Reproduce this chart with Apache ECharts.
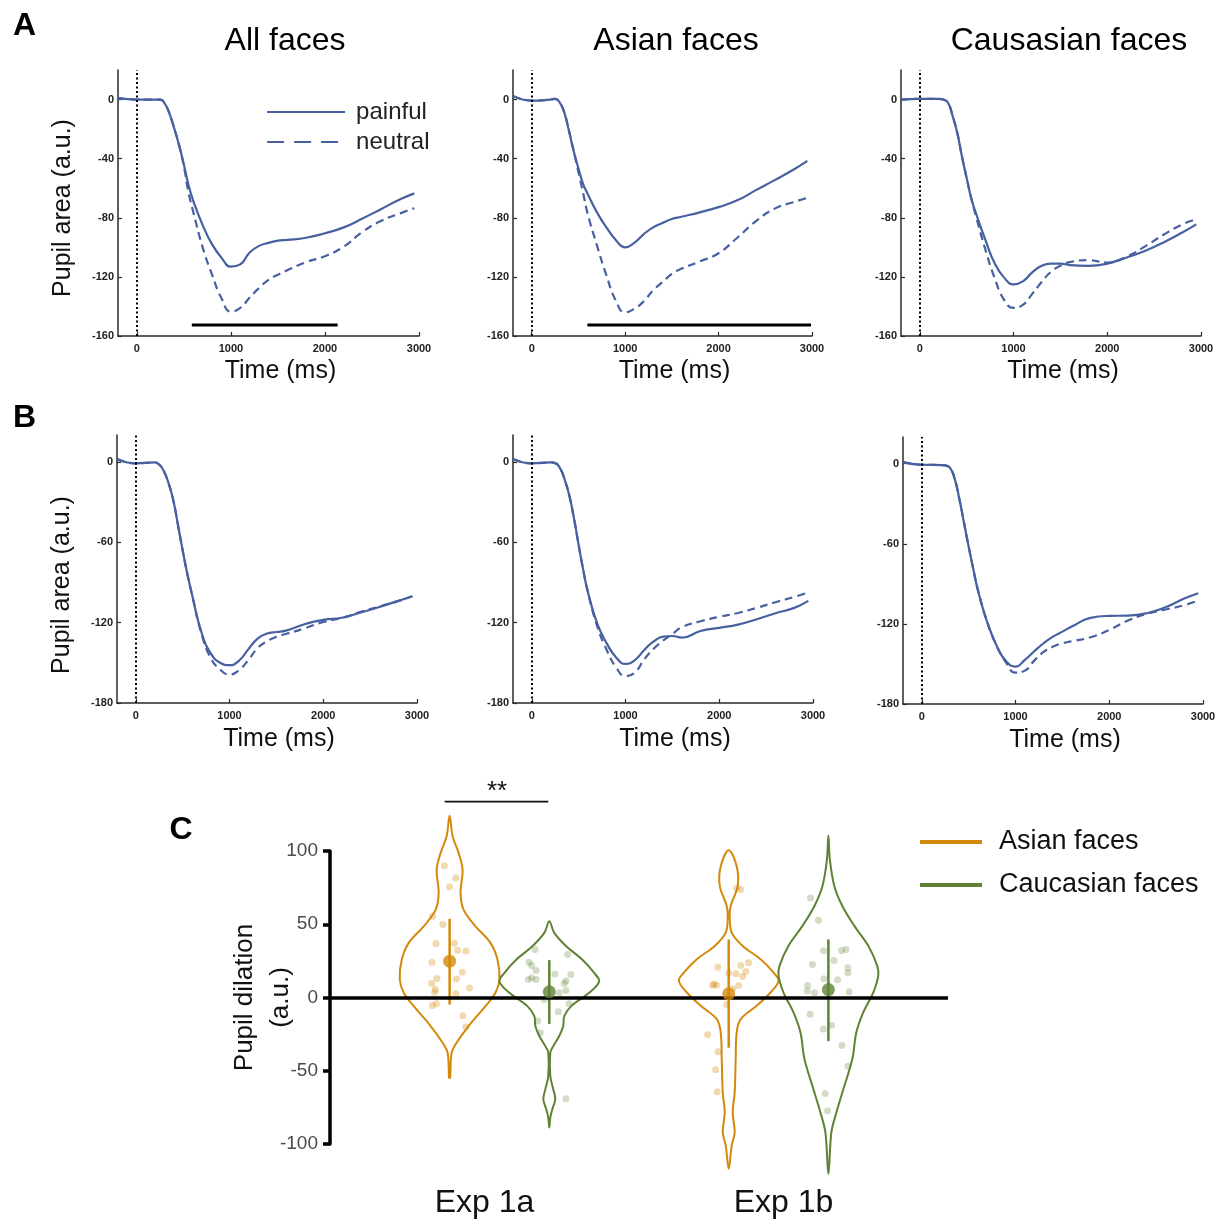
<!DOCTYPE html>
<html><head><meta charset="utf-8">
<script src="https://cdn.jsdelivr.net/npm/echarts@6/dist/echarts.min.js"></script>
<style>html,body{margin:0;padding:0;background:#fff}#c{width:1222px;height:1222px}</style>
</head><body><div id="c"></div>
<script>
// ---------- DATA ----------
const T = [-200,0,200,250,300,350,400,450,500,550,600,700,800,900,1000,1100,1200,1300,1400,1500,1600,1800,2000,2200,2400,2600,2800,2950];

const allPainfulA = [1,0,0,0,-3,-10,-20,-31,-44,-58,-68.5,-85,-98,-107,-113,-111.5,-103.5,-99,-97,-95.5,-95,-93.5,-90.5,-86.5,-80.5,-74,-67.5,-63.5];
const allNeutralA = [1,0,0,0,-3,-10,-20,-31,-45,-63,-76,-100,-118.5,-134.5,-143.5,-141,-134,-127.5,-122,-118.5,-115.5,-110,-106,-99.5,-89.5,-82,-77,-73.5];
const asianPainfulA = [2.5,-0.7,0,0.5,-2,-9,-21.5,-35,-46.5,-57,-64,-76.5,-86.5,-95,-100,-96.8,-91,-86.5,-83.5,-80.8,-79.3,-76.3,-72.8,-68.2,-61.3,-54.5,-47.5,-41.5];
const asianNeutralA = [2.5,-0.7,0,0.5,-2,-9,-21.5,-35,-49,-63,-77.5,-99,-119,-136,-144,-141.5,-136.5,-129,-123.5,-118,-114.5,-109.5,-104,-93.5,-82.3,-73.8,-69.5,-66.5];
const caucPainfulA = [0,0.5,0.5,0,-2,-11,-22.5,-38.5,-53,-67,-77,-95,-111,-120.5,-125,-123,-117,-112.5,-111,-111,-112,-112.5,-111,-107,-102.5,-96.7,-90,-84.5];
const caucNeutralA = [0,0.5,0.5,0,-2,-11,-22.5,-38.5,-53,-67,-79,-101.5,-121,-135.5,-141,-139,-131.5,-123.5,-116.5,-112.5,-110,-108.7,-110.3,-106.5,-99.5,-91.5,-84.5,-81];

const allPainfulB = [2,-1.2,-0.5,-2,-7,-16,-28.5,-47,-66,-83.5,-99,-127,-143,-150,-151.8,-148.5,-140,-132,-128.2,-127,-126,-121.2,-118,-116.4,-112.5,-108.3,-103.8,-100.3];
const allNeutralB = [2,-1.2,-0.5,-2,-7,-16,-28.5,-47,-66,-83.5,-99,-128,-146.5,-155,-158.8,-155.5,-148,-139,-134,-130.5,-128.5,-124.3,-119.5,-116.5,-112,-108,-104,-100.3];
const asianPainfulB = [2,-1.2,-0.5,-1,-4.5,-13,-25,-42,-62,-81,-97.5,-121,-135.5,-146,-150.8,-148,-140.5,-134,-130.5,-130,-131.2,-126.3,-123.9,-121.5,-117.5,-113,-109,-103.8];
const asianNeutralB = [2,-1.2,-0.5,-1,-4.5,-13,-25,-42,-62,-81,-97.5,-123,-140.5,-153.5,-160,-157.3,-147.5,-139.5,-133.5,-128.5,-123.5,-119,-115.7,-112.8,-109,-104.8,-100.8,-97.5];
const caucPainfulB = [1.2,-0.8,-1,-1.2,-3,-11,-26,-44,-62,-79,-95,-119,-136.5,-148,-152,-147,-140.5,-134.5,-129.5,-125.8,-122,-115.5,-114,-113.8,-112,-107.5,-101,-97];
const caucNeutralB = [1.2,-0.8,-1,-1.2,-3,-11,-26,-44,-62,-79,-95,-119,-136.5,-149,-156.5,-155,-147.5,-141,-137,-134.5,-133,-130,-124.5,-117.5,-112.5,-109.2,-106,-102.5];

const sigBarA1 = [585, 2135];
const sigBarA2 = [596, 2990];
const sigLevelA = -152.5;

const timeTicks = [0,1000,2000,3000];
const yTicksA = [-160,-120,-80,-40,0];
const yTicksB = [-180,-120,-60,0];
const panelTitles = ['All faces','Asian faces','Causasian faces'];

// Panel C
const expLabels = ['Exp 1a','Exp 1b'];
const expLabelPos = [1.55, 4.55];
const violinCenters = [1.2, 2.2, 4.0, 5.0]; // Asian 1a, Caucasian 1a, Asian 1b, Caucasian 1b

const asian1aVals = [124,110,98.7,87.3,71.4,60,48.6,37.3,25.9,12.3,3.2,-5.9,-19.5,-30.9,-37.7,-54.8];
const asian1aDens = [0,.06,.18,.26,.22,.28,.52,.82,.96,1.0,.92,.72,.38,.14,.04,.01];
const cauc1aVals = [52,44.1,35,25.9,16.8,11,3.2,-5.9,-12.7,-19.5,-26.3,-33.2,-37.7,-53.6,-62.7,-69.5,-76.4,-82,-88.8];
const cauc1aDens = [0,.1,.34,.66,.9,1.0,.8,.44,.3,.28,.2,.08,.02,.02,.08,.12,.06,.02,0];
const asian1bVals = [100.5,89.6,76.2,62.5,55.7,44.3,35.2,26.1,17,11.3,3.4,-5.7,-14.8,-23.9,-42,-64.8,-78.5,-92,-101,-117];
const asian1bDens = [0,.16,.18,.04,.02,.06,.28,.64,.9,1.0,.84,.56,.24,.16,.14,.12,.08,.12,.06,0];
const cauc1bVals = [110.5,94,76,62.5,48.9,35.3,21.6,14.8,3.4,-10.2,-23.9,-42,-64.8,-78.5,-92,-120.5];
const cauc1bDens = [0,.03,.12,.28,.52,.8,.98,1.0,.9,.7,.56,.48,.28,.16,.06,0];

const asian1aDots = [[-0.053,90],[0.063,81.6],[0,75.5],[-0.17,55.5],[-0.067,49.8],[-0.137,36.8],[0.047,37],[0.08,32.3],[0.163,31.8],[-0.177,24.1],[0.127,17.3],[0.067,12.7],[-0.127,13],[-0.18,9.5],[-0.143,5.5],[0.2,6.4],[0.063,2.5],[-0.133,-4.3],[-0.173,-5.5],[0.133,-12.5],[0.163,-20.2],[-0.15,3.6]];
const cauc1aDots = [[-0.143,32.7],[0.183,29.3],[-0.203,24.1],[-0.177,21.8],[-0.133,18.4],[0.057,16.1],[0.217,15.7],[-0.177,13.4],[-0.21,12.3],[-0.133,12.3],[0.167,11.2],[0.15,9.5],[0.167,4.8],[0.1,3.2],[-0.05,-1.4],[0.2,-4.3],[0.09,-9.8],[-0.117,-16.1],[-0.09,-24.1],[0.167,-69.1]];
const asian1bDots = [[0.08,74.8],[0.12,73.7],[-0.108,20.7],[0.2,23.7],[0.12,21.9],[0.172,17.8],[0.072,16.2],[0.14,14.4],[0,16.8],[-0.148,9.3],[-0.12,8.4],[-0.16,8.4],[0.1,8.2],[0.04,5.9],[-0.02,-4.8],[-0.212,-25.5],[-0.108,-37],[-0.132,-49.3],[-0.116,-64.3]];
const cauc1bDots = [[-0.18,68],[-0.1,52.8],[-0.048,31.9],[0.132,32.1],[0.176,32.8],[0.056,25.3],[-0.16,22.6],[0.196,20.3],[0.196,16.9],[-0.044,12.8],[0.092,12.1],[-0.208,8.2],[-0.212,4.4],[-0.14,3.2],[0.208,3.9],[-0.184,-11.5],[0.032,-19],[-0.052,-21.5],[0.136,-32.8],[0.196,-46.9],[-0.032,-65.5],[-0.008,-77.3]];

const asianMeans = [24.8, 2.5];
const asianErr = [[-4.8,53.7],[-34.3,39.6]];
const caucMeans = [3.9, 5.4];
const caucErr = [[-18,25.5],[-29.8,39.6]];
const sigBarC = [1.15, 2.19];
const sigLevelC = 133.7;

// ---------- STYLE / LAYOUT ----------
const FONT = '"Liberation Sans", Arial, sans-serif';
const BLUE = '#4660a0';
const ORANGE = '#d4890a';
const GREEN = '#5f8234';
const AX = '#2a2a2a';

const layout = [
  {left:118, top:70, width:301, height:266},
  {left:513, top:70, width:299, height:266},
  {left:901, top:70, width:300, height:266},
  {left:117, top:435, width:300, height:268},
  {left:513, top:435, width:300, height:268},
  {left:903, top:437, width:300, height:267},
  {left:330, top:851, width:618, height:293}
];
const lineSets = [
  [allPainfulA, allNeutralA],[asianPainfulA, asianNeutralA],[caucPainfulA, caucNeutralA],
  [allPainfulB, allNeutralB],[asianPainfulB, asianNeutralB],[caucPainfulB, caucNeutralB]
];

const grid = layout.map(g => Object.assign({outerBoundsMode:'none', containLabel:false}, g));
const xAxis = [], yAxis = [], series = [];

for (let i = 0; i < 6; i++) {
  const isA = i < 3;
  xAxis.push({
    type:'value', gridIndex:i, min:-200, max:3000,
    axisLine:{show:true, onZero:false, lineStyle:{color:AX, width:1.5}},
    axisTick:{show:true, inside:true, length:4, customValues:timeTicks, lineStyle:{color:AX, width:1.2}},
    axisLabel:{show:true, customValues:timeTicks, formatter:v=>String(v), fontSize:11, fontWeight:'bold', color:'#222', fontFamily:FONT, margin:7},
    splitLine:{show:false},
    name:'Time (ms)', nameLocation:'middle', nameGap:isA?23:24, nameMoveOverlap:false,
    nameTextStyle:{fontSize:25, color:'#111', fontFamily:FONT, padding:[0,0,0,24], lineHeight:25}
  });
  const yt = isA ? yTicksA : yTicksB;
  const yAx = {
    type:'value', gridIndex:i, min:isA?-160:-180, max:20,
    axisLine:{show:true, onZero:false, lineStyle:{color:AX, width:1.5}},
    axisTick:{show:true, inside:true, length:4, customValues:yt, lineStyle:{color:AX, width:1.2}},
    axisLabel:{show:true, customValues:yt, formatter:v=>String(v), fontSize:11, fontWeight:'bold', color:'#222', fontFamily:FONT, margin:4},
    splitLine:{show:false}
  };
  if (i === 0 || i === 3) {
    yAx.name = 'Pupil area (a.u.)';
    yAx.nameLocation = 'middle';
    yAx.nameGap = 42;
    yAx.nameMoveOverlap = false;
    yAx.nameTextStyle = {fontSize:25, color:'#111', fontFamily:FONT, lineHeight:25, padding: i===0 ? [0,10,0,0] : [0,32,0,0]};
  }
  yAxis.push(yAx);

  const [p, n] = lineSets[i];
  series.push({
    type:'line', name:'neutral', xAxisIndex:i, yAxisIndex:i,
    data:T.map((t,k)=>[t, n[k]]), symbol:'none', showSymbol:false, smooth:0.5,
    lineStyle:{color:BLUE, width:2.2, type:[8,5]}, itemStyle:{color:BLUE}, z:3
  });
  series.push({
    type:'line', name:'painful', xAxisIndex:i, yAxisIndex:i,
    data:T.map((t,k)=>[t, p[k]]), symbol:'none', showSymbol:false, smooth:0.5,
    lineStyle:{color:BLUE, width:2.2}, itemStyle:{color:BLUE}, z:4,
    markLine:{silent:true, symbol:['none','none'], label:{show:false}, animation:false,
      lineStyle:{color:'#000', type:[2,2.5], width:2}, emphasis:{disabled:true}, data:[{xAxis:0}]}
  });
}
// significance bars in A1, A2
[[0, sigBarA1],[1, sigBarA2]].forEach(([gi, bar]) => {
  series.push({type:'line', xAxisIndex:gi, yAxisIndex:gi, data:bar.map(t=>[t, sigLevelA]),
    symbol:'none', lineStyle:{color:'#000', width:3}, z:5, silent:true});
});

// Panel C axes
xAxis.push({
  type:'value', gridIndex:6, min:0, max:6.2,
  axisLine:{show:false, onZero:false}, axisTick:{show:false}, splitLine:{show:false},
  axisLabel:{show:true, customValues:expLabelPos,
    formatter:(v)=>{const k = expLabelPos.indexOf(v); return k >= 0 ? expLabels[k] : '';},
    fontSize:32, color:'#111', fontFamily:FONT, margin:43}
});
yAxis.push({
  type:'value', gridIndex:6, min:-100, max:100, interval:50,
  axisLine:{show:true, onZero:false, lineStyle:{color:'#000', width:3.5}},
  axisTick:{show:true, inside:false, length:7, lineStyle:{color:'#000', width:3.5}},
  axisLabel:{fontSize:19, color:'#4a4a4a', fontFamily:FONT, margin:12},
  splitLine:{show:false},
  name:'Pupil dilation\n(a.u.)', nameLocation:'middle', nameGap:31, nameMoveOverlap:false,
  nameTextStyle:{fontSize:26, lineHeight:36, color:'#111', fontFamily:FONT}
});

const violinVals = [asian1aVals, cauc1aVals, asian1bVals, cauc1bVals];
const violinDens = [asian1aDens, cauc1aDens, asian1bDens, cauc1bDens];
const VW = 0.5;
function renderViolin(color) {
  return function(params, api) {
    const c = api.value(0), idx = api.value(1);
    const vs = violinVals[idx], ds = violinDens[idx];
    const pts = [];
    for (let k = 0; k < vs.length; k++) pts.push(api.coord([c + ds[k]*VW, vs[k]]));
    for (let k = vs.length - 1; k >= 0; k--) if (ds[k] > 0) pts.push(api.coord([c - ds[k]*VW, vs[k]]));
    return {type:'polygon', shape:{points:pts, smooth:0.35}, style:{fill:'none', stroke:color, lineWidth:2}};
  };
}
function renderErr(color) {
  return function(params, api) {
    const a = api.coord([api.value(0), api.value(1)]);
    const b = api.coord([api.value(0), api.value(2)]);
    return {type:'line', shape:{x1:a[0], y1:a[1], x2:b[0], y2:b[1]}, style:{stroke:color, lineWidth:2.5}};
  };
}
series.push({type:'custom', name:'Asian faces', xAxisIndex:6, yAxisIndex:6, clip:false, z:2,
  itemStyle:{color:ORANGE}, data:[[violinCenters[0],0],[violinCenters[2],2]], renderItem:renderViolin(ORANGE), silent:true});
series.push({type:'custom', name:'Caucasian faces', xAxisIndex:6, yAxisIndex:6, clip:false, z:2,
  itemStyle:{color:GREEN}, data:[[violinCenters[1],1],[violinCenters[3],3]], renderItem:renderViolin(GREEN), silent:true});

series.push({type:'scatter', name:'Asian dots', xAxisIndex:6, yAxisIndex:6, symbolSize:7, z:3, silent:true,
  itemStyle:{color:ORANGE, opacity:0.32},
  data:asian1aDots.map(([o,v])=>[violinCenters[0]+o, v]).concat(asian1bDots.map(([o,v])=>[violinCenters[2]+o, v]))});
series.push({type:'scatter', name:'Caucasian dots', xAxisIndex:6, yAxisIndex:6, symbolSize:7, z:3, silent:true,
  itemStyle:{color:GREEN, opacity:0.28},
  data:cauc1aDots.map(([o,v])=>[violinCenters[1]+o, v]).concat(cauc1bDots.map(([o,v])=>[violinCenters[3]+o, v]))});

series.push({type:'custom', name:'Asian err', xAxisIndex:6, yAxisIndex:6, z:4, silent:true,
  data:asianErr.map((e,k)=>[violinCenters[k*2], e[0], e[1]]), renderItem:renderErr(ORANGE)});
series.push({type:'custom', name:'Caucasian err', xAxisIndex:6, yAxisIndex:6, z:4, silent:true,
  data:caucErr.map((e,k)=>[violinCenters[k*2+1], e[0], e[1]]), renderItem:renderErr(GREEN)});

series.push({type:'scatter', name:'Asian mean', xAxisIndex:6, yAxisIndex:6, symbolSize:13, z:6, silent:true,
  itemStyle:{color:ORANGE}, data:asianMeans.map((m,k)=>[violinCenters[k*2], m])});
series.push({type:'scatter', name:'Caucasian mean', xAxisIndex:6, yAxisIndex:6, symbolSize:13, z:6, silent:true,
  itemStyle:{color:GREEN}, data:caucMeans.map((m,k)=>[violinCenters[k*2+1], m])});

series.push({type:'line', name:'sig', xAxisIndex:6, yAxisIndex:6, clip:false, z:10, silent:true,
  data:sigBarC.map(x=>[x, sigLevelC]), symbol:'none', lineStyle:{color:'#111', width:1.8},
  label:{show:false},
  markLine:{silent:true, symbol:['none','none'], label:{show:false}, animation:false,
    lineStyle:{color:'#000', width:3.5, type:'solid'}, emphasis:{disabled:true}, data:[{yAxis:0}]}
});

// ---------- TEXT ----------
const graphic = [
  {type:'text', x:24.5, y:26, style:{text:'A', font:'bold 32px '+FONT, fill:'#000', align:'center', verticalAlign:'middle'}},
  {type:'text', x:24.5, y:418, style:{text:'B', font:'bold 32px '+FONT, fill:'#000', align:'center', verticalAlign:'middle'}},
  {type:'text', x:181, y:830, style:{text:'C', font:'bold 32px '+FONT, fill:'#000', align:'center', verticalAlign:'middle'}},
  {type:'text', x:285, y:41, style:{text:panelTitles[0], font:'32px '+FONT, fill:'#000', align:'center', verticalAlign:'middle'}},
  {type:'text', x:676, y:41, style:{text:panelTitles[1], font:'32px '+FONT, fill:'#000', align:'center', verticalAlign:'middle'}},
  {type:'text', x:1069, y:41, style:{text:panelTitles[2], font:'32px '+FONT, fill:'#000', align:'center', verticalAlign:'middle'}},
  {type:'text', x:497, y:792, style:{text:'**', font:'26px '+FONT, fill:'#111', align:'center', verticalAlign:'middle'}}
];

const option = {
  animation:false,
  backgroundColor:'#fff',
  textStyle:{fontFamily:FONT},
  grid, xAxis, yAxis, series, graphic,
  legend:[
    {orient:'vertical', left:261, top:95, itemWidth:78, itemHeight:14, itemGap:6, selectedMode:false,
      textStyle:{fontSize:24, lineHeight:24, color:'#222', fontFamily:FONT, padding:[0,0,0,6]},
      data:[{name:'painful', itemStyle:{opacity:0}, lineStyle:{type:'solid', width:2.2, color:BLUE}},
            {name:'neutral', itemStyle:{opacity:0}, lineStyle:{type:[17,10], width:2.2, color:BLUE}}]},
    {orient:'vertical', left:915, top:822, itemWidth:62, itemHeight:4, itemGap:13, icon:'rect', selectedMode:false,
      textStyle:{fontSize:27, lineHeight:30, color:'#111', fontFamily:FONT, padding:[0,0,0,12]},
      data:[{name:'Asian faces', itemStyle:{color:ORANGE}}, {name:'Caucasian faces', itemStyle:{color:GREEN}}]}
  ]
};

const chart = echarts.init(document.getElementById('c'), null, {renderer:'canvas'});
chart.setOption(option);
</script>
</body></html>
